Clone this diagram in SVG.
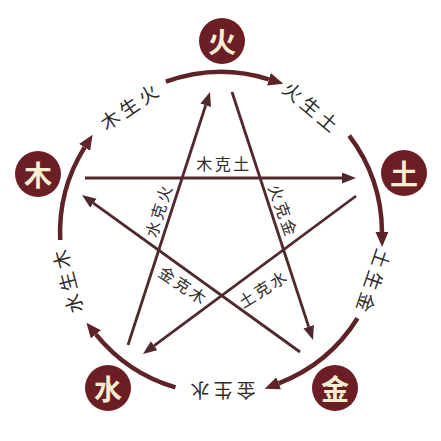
<svg xmlns="http://www.w3.org/2000/svg" width="441" height="441" viewBox="0 0 441 441">
<style>
.arc{fill:none;stroke:#5e2329;stroke-width:4.5;stroke-linecap:butt}
.star{fill:none;stroke:#4e2a2e;stroke-width:2.8}
.node circle{fill:#6b1f25}
.node text{fill:#f6edd3;font-family:"Noto Sans CJK SC","Noto Sans CJK JP",sans-serif;font-size:28px;font-weight:bold;text-anchor:middle;dominant-baseline:central}
.lbl{fill:#2f2a2a;font-family:"Noto Sans CJK SC","Noto Sans CJK JP",sans-serif;font-size:19px;letter-spacing:4px;text-anchor:middle;dominant-baseline:central}
.in{fill:#2f2a2a;font-family:"Noto Sans CJK SC","Noto Sans CJK JP",sans-serif;font-size:16px;letter-spacing:2.5px;text-anchor:middle;dominant-baseline:central}
</style>
<defs>
<marker id="ah" markerUnits="userSpaceOnUse" markerWidth="16" markerHeight="14" refX="0" refY="6.5" orient="auto">
<path d="M0,0 L15,6.5 L0,13 Z" fill="#5e2329"/>
</marker>
<marker id="as" markerUnits="userSpaceOnUse" markerWidth="15" markerHeight="12" refX="0" refY="5.5" orient="auto">
<path d="M0,0 L14,5.5 L0,11 Z" fill="#4e2a2e"/>
</marker>
</defs>
<rect width="441" height="441" fill="#ffffff"/>
<g id="connectors">
<path class="arc" marker-end="url(#ah)" d="M165.9,81.7 A161,161 0 0 1 268.9,79.3"/>
<path class="arc" marker-end="url(#ah)" d="M349.2,135.7 A161,161 0 0 1 382,231.9"/>
<path class="arc" marker-end="url(#ah)" d="M357.5,318.3 A161,161 0 0 1 278.7,383.3"/>
<path class="arc" marker-end="url(#ah)" d="M175.5,387.4 A161,161 0 0 1 95.9,334.3"/>
<path class="arc" marker-end="url(#ah)" d="M60.2,240 A161,161 0 0 1 84.6,147.4"/>
<path class="star" marker-end="url(#as)" d="M85,178 L342,178"/>
<path class="star" marker-end="url(#as)" d="M356,196 L154.2,345.7"/>
<path class="star" marker-end="url(#as)" d="M128,345 L205.7,105.3"/>
<path class="star" marker-end="url(#as)" d="M232,92 L308.7,326.7"/>
<path class="star" marker-end="url(#as)" d="M300,352 L93.4,203.2"/>
<text class="lbl" transform="translate(130,105) rotate(-34)">木生火</text>
<text class="lbl" transform="translate(313,107) rotate(40)">火生土</text>
<text class="lbl" transform="translate(374,283) rotate(109)">土生金</text>
<text class="lbl" transform="translate(221,391) rotate(180)">金生水</text>
<text class="lbl" transform="translate(66,280) rotate(-105)">水生木</text>
<text class="in" transform="translate(224,163)">木克土</text>
<text class="in" transform="translate(158,210) rotate(-73)">水克火</text>
<text class="in" transform="translate(284,211) rotate(70)">火克金</text>
<text class="in" transform="translate(184,285) rotate(34)">金克木</text>
<text class="in" transform="translate(263,288) rotate(-32)">土克水</text>
</g>
<g id="fire" class="node"><circle cx="222" cy="41" r="23"/><text x="222" y="41">火</text></g>
<g id="wood" class="node"><circle cx="38" cy="174" r="23"/><text x="38" y="174">木</text></g>
<g id="earth" class="node"><circle cx="404" cy="173" r="23"/><text x="404" y="173">土</text></g>
<g id="water" class="node"><circle cx="108" cy="388" r="23"/><text x="108" y="388">水</text></g>
<g id="metal" class="node"><circle cx="335" cy="388" r="23"/><text x="335" y="388">金</text></g>
</svg>
